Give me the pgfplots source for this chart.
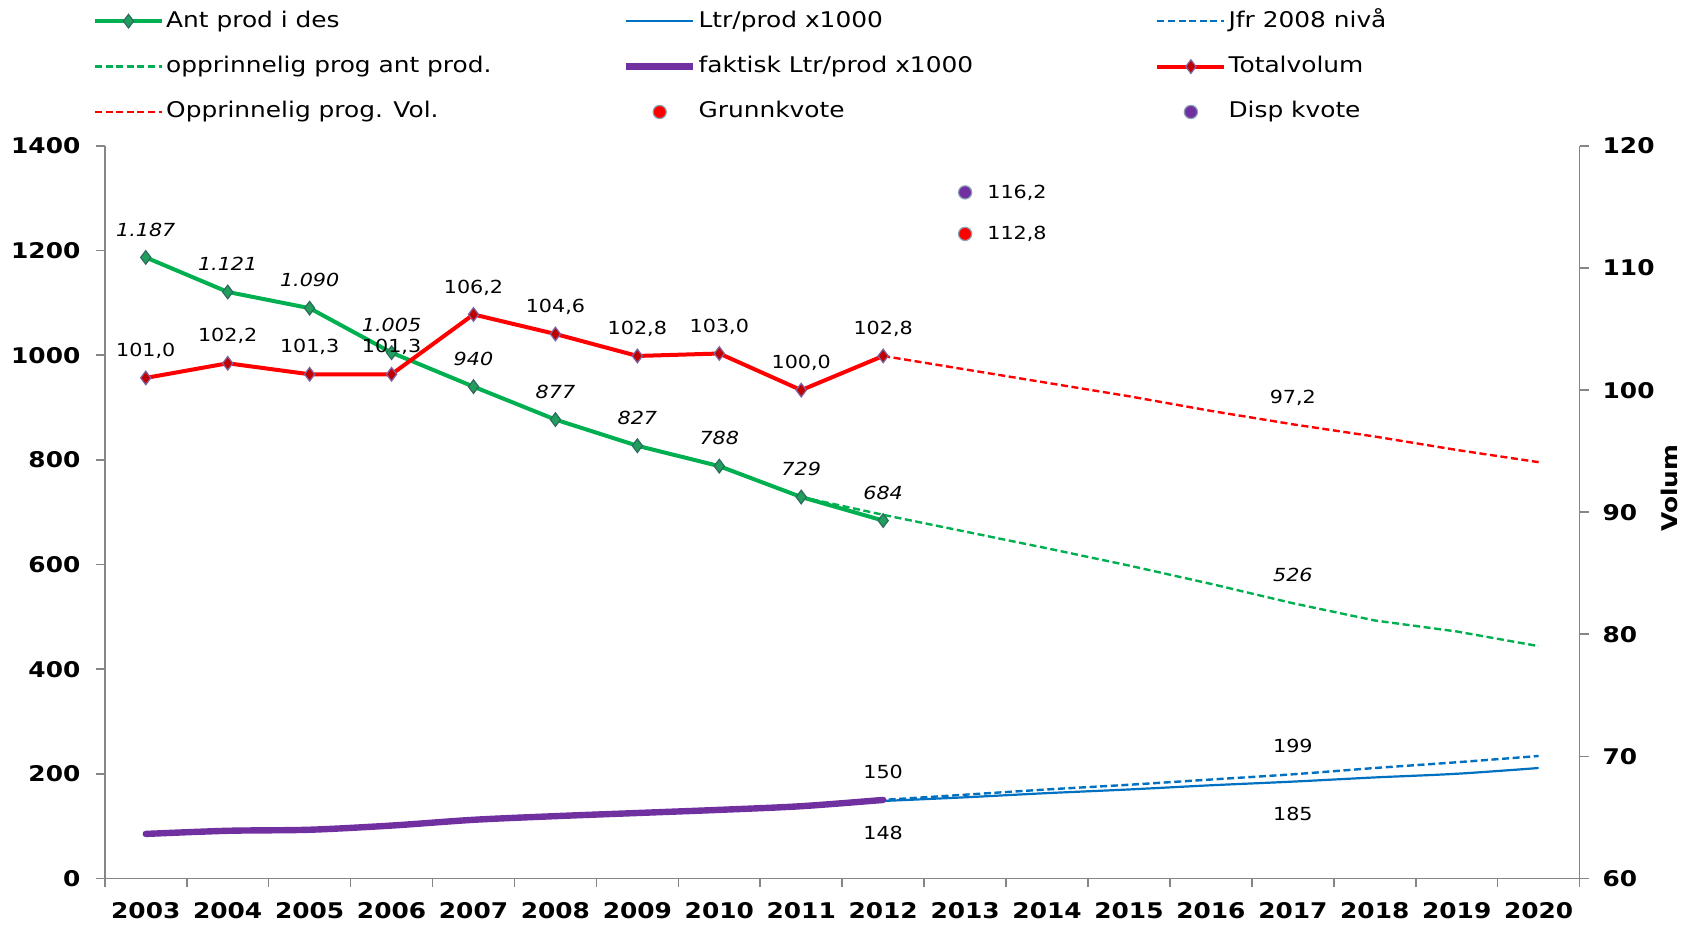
\documentclass[border=0pt]{standalone}
\usepackage{fontspec}
\setmainfont{DejaVu Sans}[FakeStretch=1.15]
\usepackage{pgfplots}
\pgfplotsset{compat=1.18}
\definecolor{mygreen}{HTML}{00B050}
\definecolor{gmfill}{HTML}{1F9E5C}
\definecolor{gmedge}{HTML}{2E6B5E}
\definecolor{myred}{HTML}{FF0000}
\definecolor{rmfill}{HTML}{C00000}
\definecolor{rmedge}{HTML}{8064A2}
\definecolor{myblue}{HTML}{0070C0}
\definecolor{mypurple}{HTML}{7030A0}
\definecolor{axisgray}{HTML}{868686}
\definecolor{cedge}{HTML}{8EA0B4}
\newcommand{\tickfont}{\fontsize{10.8}{13}\selectfont\bfseries}
\newcommand{\labfont}{\fontsize{9}{11}\selectfont}
\pgfplotsset{
  common/.style={
    at={(52.4pt,24.3pt)}, anchor=south west,
    scale only axis, width=737.4pt, height=366.2pt,
    xmin=-0.5, xmax=17.5, clip=false,
    axis line style={draw=axisgray, line width=0.8pt, -},
    tick align=outside, major tick length=4.5pt, minor tick length=4.5pt,
    tick style={draw=axisgray, line width=0.8pt},
    ticklabel style={font=\tickfont},
    /pgf/number format/1000 sep={},
    /pgf/number format/assume math mode=true,
  },
  lab/.style={nodes near coords, point meta=explicit symbolic,
    nodes near coords style={font=\labfont, text=black, anchor=base, yshift=10.65pt}},
  labit/.style={nodes near coords, point meta=explicit symbolic,
    nodes near coords style={font=\labfont\itshape, text=black, anchor=base, yshift=10.65pt}},
  labbelow/.style={nodes near coords, point meta=explicit symbolic,
    nodes near coords style={font=\labfont, text=black, anchor=base, yshift=-19.35pt}},
  dsh/.style={line width=1.2pt, dash pattern=on 3.5pt off 1.8pt},
  gmark/.style={mark=diamond*, mark size=3.4pt, mark options={solid, fill=gmfill, draw=gmedge, line width=0.6pt}},
  rmark/.style={mark=diamond*, mark size=3.4pt, mark options={solid, fill=rmfill, draw=rmedge, line width=0.6pt}},
}
\begin{document}
\begin{tikzpicture}
\path[use as bounding box] (0,0) rectangle (847pt,463.5pt);
\begin{axis}[
  common,
  ymin=0, ymax=1400,
  axis x line*=bottom, axis y line*=left,
  xtick={0,...,17},
  xticklabels={2003,2004,2005,2006,2007,2008,2009,2010,2011,2012,2013,2014,2015,2016,2017,2018,2019,2020},
  minor xtick={-0.5,0.5,...,17.5},
  ytick={0,200,...,1400},
  major x tick style={draw=none},
  xticklabel style={yshift=-4.2pt},
  yticklabel style={xshift=-4.2pt},
  legend columns=3,
  legend cell align=left,
  legend style={at={(axis description cs:-0.0080,1.1868)}, anchor=north west,
    draw=none, fill=none, inner sep=0pt, outer sep=0pt, row sep=10.7pt,
    font=\fontsize{10.8}{13}\selectfont,
    nodes={inner sep=0pt, text height=9pt, text depth=3pt},
    /tikz/every odd column/.append style={column sep=1.1pt}},
  legend image code/.code={\draw[mark repeat=2,mark phase=2,#1] plot coordinates {(0pt,0pt) (16.75pt,0pt) (33.5pt,0pt)};},
]
% legend
\addlegendimage{mygreen, line width=2pt, gmark}
\addlegendentry{\makebox[228.4pt][l]{Ant prod i des}}
\addlegendimage{myblue, line width=1.1pt}
\addlegendentry{\makebox[228.4pt][l]{Ltr/prod x1000}}
\addlegendimage{myblue, dsh}
\addlegendentry{Jfr 2008 nivå}
\addlegendimage{mygreen, dsh}
\addlegendentry{\makebox[228.4pt][l]{opprinnelig prog ant prod.}}
\addlegendimage{mypurple, line width=3.2pt}
\addlegendentry{\makebox[228.4pt][l]{faktisk Ltr/prod x1000}}
\addlegendimage{myred, line width=2pt, rmark}
\addlegendentry{Totalvolum}
\addlegendimage{myred, dsh}
\addlegendentry{\makebox[228.4pt][l]{Opprinnelig prog. Vol.}}
\addlegendimage{legend image code/.code={\path[draw=white, draw opacity=0, line width=0.1pt] (0pt,0pt) -- (33.5pt,0pt); \filldraw[fill=myred, draw=cedge, line width=0.6pt] (16.75pt,0pt) circle (3.3pt);}}
\addlegendentry{\makebox[228.4pt][l]{Grunnkvote}}
\addlegendimage{legend image code/.code={\path[draw=white, draw opacity=0, line width=0.1pt] (0pt,0pt) -- (33.5pt,0pt); \filldraw[fill=mypurple, draw=cedge, line width=0.6pt] (16.75pt,0pt) circle (3.3pt);}}
\addlegendentry{Disp kvote}
% Jfr 2008 nivå
\addplot[myblue, dsh, smooth] coordinates {(7,132) (8,140) (9,150) (10,160) (11,170) (12,179) (13,189) (14,199) (15,211) (16,222) (17,234)};
% Ltr/prod x1000
\addplot[myblue, line width=1.1pt, smooth] coordinates {(9,148) (10,155) (11,163) (12,170) (13,178) (14,185) (15,193) (16,200) (17,211)};
% faktisk Ltr/prod x1000
\addplot[mypurple, line width=3.2pt, smooth, line cap=round] coordinates {(0,85) (1,91) (2,93) (3,101) (4,112) (5,119) (6,125) (7,131) (8,138) (9,150)};
% labels for blue lines
\addplot[draw=none, mark=none, lab] coordinates {(9,150) [150] (14,199) [199]};
\addplot[draw=none, mark=none, labbelow] coordinates {(9,148) [148] (14,185) [185]};
% opprinnelig prog ant prod.
\addplot[mygreen, dsh] coordinates {(8,729) (9,695) (10,663) (11,631) (12,598) (13,563) (14,526) (15,493) (16,472) (17,444)};
\addplot[draw=none, mark=none, labit] coordinates {(14,526) [526]};
% Ant prod i des
\addplot[mygreen, line width=2pt, gmark, labit] coordinates {(0,1187) [1.187] (1,1121) [1.121] (2,1090) [1.090] (3,1005) [1.005] (4,940) [940] (5,877) [877] (6,827) [827] (7,788) [788] (8,729) [729] (9,684) [684]};
\end{axis}
\begin{axis}[
  common,
  ymin=60, ymax=120,
  axis x line=none, axis y line*=right,
  ytick={60,70,...,120},
  yticklabel style={xshift=3.5pt},
  ylabel={Volum},
  every axis y label/.style={at={(axis description cs:1.0607,0.533)}, rotate=90, anchor=center, font=\tickfont},
]
% Opprinnelig prog. Vol.
\addplot[myred, dsh] coordinates {(9,102.8) (10,101.7) (11,100.6) (12,99.5) (13,98.3) (14,97.2) (15,96.2) (16,95.1) (17,94.1)};
\addplot[draw=none, mark=none, lab] coordinates {(14,97.2) [{97,2}]};
% Totalvolum
\addplot[myred, line width=2pt, rmark, lab] coordinates {(0,101.0) [{101,0}] (1,102.2) [{102,2}] (2,101.3) [{101,3}] (3,101.3) [{101,3}] (4,106.2) [{106,2}] (5,104.6) [{104,6}] (6,102.8) [{102,8}] (7,103.0) [{103,0}] (8,100.0) [{100,0}] (9,102.8) [{102,8}]};
% Grunnkvote and Disp kvote
\addplot[draw=none, mark=*, mark size=3.3pt, mark options={fill=myred, draw=cedge, line width=0.6pt},
  nodes near coords, point meta=explicit symbolic,
  nodes near coords style={font=\labfont, text=black, anchor=west, xshift=7.5pt, yshift=0pt}] coordinates {(10,112.8) [{112,8}]};
\addplot[draw=none, mark=*, mark size=3.3pt, mark options={fill=mypurple, draw=cedge, line width=0.6pt},
  nodes near coords, point meta=explicit symbolic,
  nodes near coords style={font=\labfont, text=black, anchor=west, xshift=7.5pt, yshift=0pt}] coordinates {(10,116.2) [{116,2}]};
\end{axis}
\end{tikzpicture}
\end{document}
